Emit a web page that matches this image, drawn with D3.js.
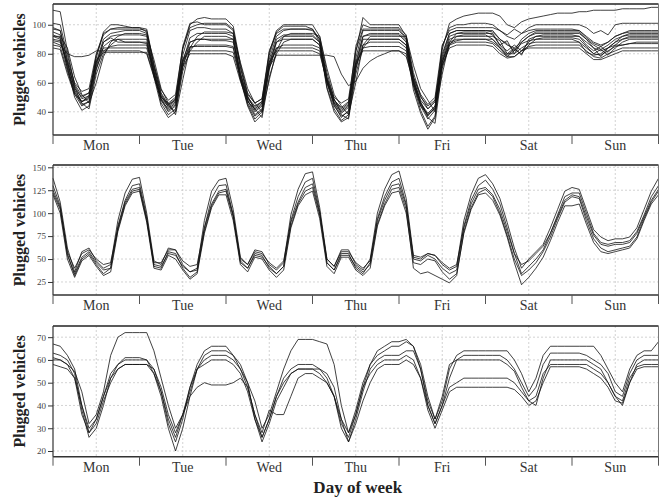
<!DOCTYPE html>
<html>
<head>
<meta charset="utf-8">
<script src="https://cdn.jsdelivr.net/npm/d3@7"></script>
<style>
body { margin: 0; background: #fff; }
svg { display: block; }
</style>
</head>
<body>
<div id="chart"></div>
<script>
// ---- data (one value every 2 hours from Mon 00:00) ----
var days = ["Mon", "Tue", "Wed", "Thu", "Fri", "Sat", "Sun"];
var hours = d3.range(0, 169, 2);

var ticksTop = [40, 60, 80, 100];
var ticksMid = [25, 50, 75, 100, 125, 150];
var ticksBot = [20, 30, 40, 50, 60, 70];

// top panel
var topSeries = [
  [110,109,82,58,49,51,79,93,97,98,98,98, 98,95,71,51,43,47,83,100,104,105,104,104, 104,99,73,53,46,49,79,95,99,99,99,99, 97,88,63,47,41,45,85,100,98,98,98,98, 98,93,67,51,42,47,83,101,104,106,107,108, 108,108,106,100,98,102,104,105,106,107,108,108, 108,109,109,110,110,110,110,111,111,111,111,112, 112],
  [101,100,79,59,51,53,77,95,100,100,99,98, 98,97,73,53,45,49,85,101,102,100,100,100, 100,96,71,51,41,45,81,96,100,100,100,100, 100,92,67,49,39,43,81,105,100,100,100,100, 100,92,63,47,37,43,85,98,100,100,101,101, 101,100,96,93,97,94,98,100,100,100,100,100, 100,100,98,94,96,93,100,101,101,101,101,101, 101],
  [97,96,75,55,47,49,74,90,94,95,96,96, 96,94,68,49,41,45,79,96,98,98,97,97, 97,94,66,48,38,42,76,92,96,97,97,97, 96,90,61,45,36,41,77,96,96,96,96,96, 96,90,60,44,35,41,80,94,96,96,96,96, 96,96,90,87,82,90,94,96,96,96,96,96, 96,96,91,87,85,88,92,94,96,96,96,96, 96],
  [95,93,72,52,44,47,71,88,92,93,93,93, 93,92,66,46,38,42,74,91,94,94,94,94, 94,92,63,45,35,40,72,90,93,93,93,93, 93,88,57,42,34,38,72,92,93,93,93,93, 93,88,58,41,30,37,76,92,94,94,94,94, 94,94,86,89,80,88,92,94,94,94,94,94, 94,94,90,86,83,86,90,92,93,93,93,93, 93],
  [93,91,70,50,41,44,69,85,89,90,90,90, 90,90,64,44,36,40,71,88,90,90,90,90, 90,90,62,44,33,38,69,88,90,90,90,90, 90,86,56,40,33,36,69,90,90,90,90,90, 90,86,55,39,28,36,74,90,92,92,92,92, 92,92,89,80,84,79,90,92,92,92,92,92, 92,92,88,84,78,84,88,90,91,91,91,91, 91],
  [92,90,73,56,50,53,73,88,91,88,88,88, 88,87,68,50,45,48,76,88,90,90,89,89, 89,88,67,50,44,47,74,88,92,92,92,92, 92,88,63,48,42,46,74,92,94,94,94,94, 94,89,64,50,44,48,78,94,96,96,96,96, 96,95,90,86,84,88,92,95,95,95,95,95, 95,95,90,84,82,84,88,92,94,94,94,94, 94],
  [88,86,80,78,78,79,82,82,82,82,82,82, 82,80,64,50,46,50,71,80,80,80,80,80, 80,78,61,47,42,46,71,79,79,79,79,79, 79,79,79,78,66,58,61,70,75,78,80,82, 82,78,61,48,42,47,74,87,89,90,90,90, 90,88,84,78,82,87,89,90,90,90,90,90, 90,88,81,79,80,84,86,86,87,88,88,88, 88],
  [90,89,70,54,45,47,70,82,85,86,86,86, 86,86,67,48,40,44,72,84,86,86,86,86, 86,85,63,46,37,41,70,84,86,86,86,86, 86,84,60,44,37,40,70,86,88,88,88,88, 88,84,60,45,38,42,75,88,90,90,90,90, 90,90,85,80,80,84,87,88,88,88,88,88, 88,88,84,80,79,82,85,86,87,87,87,87, 87],
  [86,85,68,53,47,50,74,84,84,84,84,84, 84,84,66,48,42,46,74,85,85,85,85,85, 85,84,64,48,40,44,72,84,84,84,84,84, 84,82,60,46,40,44,72,84,85,85,85,85, 85,82,60,46,39,44,72,86,88,88,88,88, 88,87,82,78,78,82,85,86,86,86,86,86, 86,86,82,78,77,80,82,84,84,84,84,84, 84],
  [84,83,66,52,47,51,76,81,81,81,81,81, 81,81,65,49,44,48,76,82,82,82,82,82, 82,81,63,49,43,47,74,82,82,82,82,82, 82,80,61,48,43,47,74,82,82,82,82,82, 82,80,58,44,38,43,72,84,86,86,86,86, 86,85,80,77,78,82,84,84,84,84,84,84, 84,84,80,76,76,78,80,82,82,82,82,82, 82],
  [98,96,76,60,54,56,80,94,97,97,97,97, 97,96,72,55,48,52,84,98,100,101,101,101, 101,97,70,52,46,49,82,94,97,97,97,97, 97,90,64,50,46,49,82,97,97,97,97,97, 97,91,64,52,45,50,86,96,98,98,98,98, 98,98,96,92,90,94,96,97,97,97,97,97, 97,96,92,88,86,88,92,94,95,95,95,95, 95],
  [89,88,74,57,46,42,66,80,86,90,88,88, 88,88,70,52,44,40,68,82,88,92,92,92, 92,90,66,50,42,36,64,80,88,90,90,90, 90,86,62,46,38,35,66,84,90,90,90,90, 90,86,62,46,36,32,70,86,92,93,93,93, 93,90,84,79,83,80,86,90,91,91,91,91, 91,90,85,80,83,79,84,88,90,90,90,90, 90],
  [92,92,84,64,52,46,60,78,88,92,94,94, 94,93,76,56,46,38,62,84,92,95,95,95, 95,94,74,56,46,40,62,82,92,94,94,94, 94,92,70,52,44,38,60,86,92,92,92,92, 92,92,72,56,48,40,66,88,94,95,95,95, 95,93,86,82,86,82,88,92,93,93,93,93, 93,92,86,82,85,81,86,90,92,92,92,92, 92]
];

// middle panel
var midSeries = [
  [138,112,62,36,58,62,48,40,44,92,122,137, 139,100,48,44,62,60,44,36,40,92,124,136, 138,104,52,44,60,58,44,38,46,98,126,143, 145,106,50,42,60,60,44,38,50,100,126,142, 146,116,54,52,56,54,44,38,42,92,120,138, 142,132,116,90,62,40,50,58,66,84,104,124, 128,126,104,82,74,70,72,72,74,84,104,124, 138],
  [130,108,56,32,50,56,44,34,40,86,114,130, 132,96,42,40,58,56,40,30,36,84,116,130, 131,98,46,40,56,54,40,34,42,92,118,134, 138,102,46,38,56,56,40,34,46,94,118,134, 138,110,50,48,54,50,40,34,38,86,114,130, 136,126,110,84,56,34,42,50,60,78,98,118, 122,122,100,78,68,66,68,68,70,80,98,118, 130],
  [125,106,58,40,56,60,50,44,46,84,112,126, 128,94,46,46,60,60,48,42,44,84,110,124, 126,98,50,44,58,56,46,40,48,90,112,128, 132,100,50,42,58,58,46,40,48,92,114,130, 132,108,52,50,56,54,46,40,44,84,110,126, 128,120,104,80,56,44,48,56,64,78,96,114, 120,118,96,76,66,64,66,66,68,78,96,114, 126],
  [122,104,54,34,52,58,46,38,40,82,110,124, 126,92,44,42,56,54,42,36,38,80,108,122, 124,96,48,40,54,52,42,34,42,86,110,124, 128,98,46,38,54,54,42,36,44,88,110,126, 128,104,40,34,36,32,28,24,32,80,106,122, 126,118,100,76,50,32,38,46,58,74,94,112, 118,116,92,72,62,58,60,62,64,74,94,112, 124],
  [120,100,50,30,48,54,42,32,36,80,108,122, 124,90,40,38,54,50,38,28,34,78,106,120, 120,92,44,36,52,50,38,30,38,84,108,120, 124,94,42,34,52,52,38,32,40,86,108,122, 124,100,46,44,50,48,36,28,34,78,104,120, 122,114,98,74,46,22,30,40,52,70,90,108, 108,110,88,68,58,56,58,60,62,72,92,110, 120]
];

// bottom panel
var botSeries = [
  [61,60,58,55,46,32,36,46,62,70,72,72, 72,72,64,52,40,30,36,46,56,60,62,62, 62,60,56,50,42,30,36,46,56,64,69,69, 69,68,67,58,40,28,38,50,58,62,64,66, 66,68,66,58,44,34,42,56,62,64,64,64, 64,64,64,64,60,54,46,52,62,66,66,66, 66,66,66,66,62,56,50,46,56,62,64,64, 68],
  [67,66,62,56,40,28,34,44,54,58,60,60, 60,60,56,46,32,24,34,48,58,64,66,66, 66,62,56,48,36,26,34,44,52,56,58,58, 58,56,54,48,34,24,34,46,56,60,62,62, 62,64,64,56,40,32,40,52,60,62,62,62, 62,62,62,60,56,50,44,48,58,63,63,63, 63,63,62,60,58,54,46,44,54,60,62,62, 62],
  [63,62,60,54,38,26,30,40,52,58,61,61, 61,60,54,44,30,20,30,44,56,62,64,64, 64,62,58,50,34,24,32,42,48,54,56,56, 56,56,52,44,32,26,36,48,58,64,66,68, 68,69,66,56,42,34,44,58,60,60,60,60, 60,60,60,58,55,48,42,40,52,60,60,60, 60,60,60,58,56,50,44,40,50,58,60,60, 60],
  [60,60,58,52,36,28,32,42,50,56,58,58, 58,58,54,46,34,26,36,44,48,50,49,49, 49,50,52,48,36,28,38,36,36,44,52,54, 54,52,50,44,30,24,32,42,50,56,58,58, 58,60,58,52,40,32,40,48,50,52,52,52, 52,52,52,52,50,46,42,44,54,58,58,58, 58,58,58,56,54,50,44,42,52,57,58,58, 58],
  [58,57,56,52,40,30,34,44,52,56,58,58, 58,58,56,48,36,28,36,48,56,58,60,60, 60,58,54,46,34,26,34,44,50,54,56,56, 56,54,50,44,34,28,36,48,54,58,60,60, 60,62,60,52,38,30,38,46,48,48,48,48, 48,48,48,48,47,44,40,42,50,57,57,57, 57,57,56,54,52,48,42,41,50,56,57,57, 57]
];

// ---- layout ----
var W = 663, H = 503;
var LEFT = 53, RIGHT = 658.5;
var FONT = "'Liberation Serif', 'DejaVu Serif', serif";

var panels = [
  { series: topSeries, top: 4,   bottom: 135,   domain: [24, 114.3],  ticks: ticksTop },
  { series: midSeries, top: 165, bottom: 295,   domain: [10.8, 152.5], ticks: ticksMid },
  { series: botSeries, top: 326, bottom: 456.7, domain: [17.5, 74.9], ticks: ticksBot }
];

var svg = d3.select("#chart").append("svg")
  .attr("width", W)
  .attr("height", H)
  .style("font-family", FONT);

var x = d3.scaleLinear().domain([0, 168]).range([LEFT, RIGHT]);

panels.forEach(function(p){
  var y = d3.scaleLinear().domain(p.domain).range([p.bottom, p.top]);
  var g = svg.append("g");

  // grid
  g.selectAll(".hgrid").data(p.ticks).enter().append("line")
    .attr("x1", LEFT).attr("x2", RIGHT)
    .attr("y1", function(d){ return y(d); })
    .attr("y2", function(d){ return y(d); })
    .style("stroke", "#c8c8c8")
    .style("stroke-width", 0.8)
    .style("stroke-dasharray", "2,2");

  g.selectAll(".vgrid").data(days).enter().append("line")
    .attr("x1", function(d, i){ return x(i * 24 + 12); })
    .attr("x2", function(d, i){ return x(i * 24 + 12); })
    .attr("y1", p.top).attr("y2", p.bottom)
    .style("stroke", "#c8c8c8")
    .style("stroke-width", 0.8)
    .style("stroke-dasharray", "2,2");

  // series
  var line = d3.line()
    .x(function(d, i){ return x(hours[i]); })
    .y(function(d){ return y(d); });

  g.selectAll(".series").data(p.series).enter().append("path")
    .attr("d", line)
    .style("fill", "none")
    .style("stroke", "#111")
    .style("stroke-width", 0.8)
    .style("stroke-linejoin", "round");

  // frame: top and right
  g.append("line")
    .attr("x1", LEFT).attr("x2", RIGHT)
    .attr("y1", p.top).attr("y2", p.top)
    .style("stroke", "#222").style("stroke-width", 1.6);
  g.append("line")
    .attr("x1", RIGHT).attr("x2", RIGHT)
    .attr("y1", p.top).attr("y2", p.bottom)
    .style("stroke", "#777").style("stroke-width", 1);

  // y axis
  var yAxis = g.append("g")
    .attr("transform", "translate(" + LEFT + ",0)")
    .call(d3.axisLeft(y).tickValues(p.ticks).tickSize(5).tickPadding(2));
  yAxis.select(".domain").attr("d", "M0," + p.top + "V" + p.bottom)
    .style("stroke", "#333").style("stroke-width", 1.2);
  yAxis.selectAll(".tick line").style("stroke", "#333").style("stroke-width", 1);
  yAxis.selectAll(".tick text")
    .style("font-family", FONT)
    .style("font-size", "9px")
    .style("fill", "#444");

  // x axis: ticks at day boundaries, labels at noon
  g.append("line")
    .attr("x1", LEFT).attr("x2", RIGHT)
    .attr("y1", p.bottom).attr("y2", p.bottom)
    .style("stroke", "#333").style("stroke-width", 1.6);

  g.selectAll(".dtick").data(d3.range(8)).enter().append("line")
    .attr("x1", function(d){ return x(d * 24); })
    .attr("x2", function(d){ return x(d * 24); })
    .attr("y1", p.bottom).attr("y2", p.bottom + 9)
    .style("stroke", "#555").style("stroke-width", 1);

  g.selectAll(".dlabel").data(days).enter().append("text")
    .attr("x", function(d, i){ return x(i * 24 + 12); })
    .attr("y", p.bottom + 15)
    .attr("text-anchor", "middle")
    .style("font-size", "14px")
    .style("fill", "#333")
    .text(function(d){ return d; });

  // y label
  svg.append("text")
    .attr("transform", "translate(25," + ((p.top + p.bottom) / 2) + ") rotate(-90)")
    .attr("text-anchor", "middle")
    .style("font-size", "16px")
    .style("font-weight", "bold")
    .style("fill", "#222")
    .text("Plugged vehicles");
});

svg.append("text")
  .attr("x", (LEFT + RIGHT) / 2 + 2)
  .attr("y", 493)
  .attr("text-anchor", "middle")
  .style("font-size", "17px")
  .style("font-weight", "bold")
  .style("fill", "#222")
  .text("Day of week");
</script>
</body>
</html>
